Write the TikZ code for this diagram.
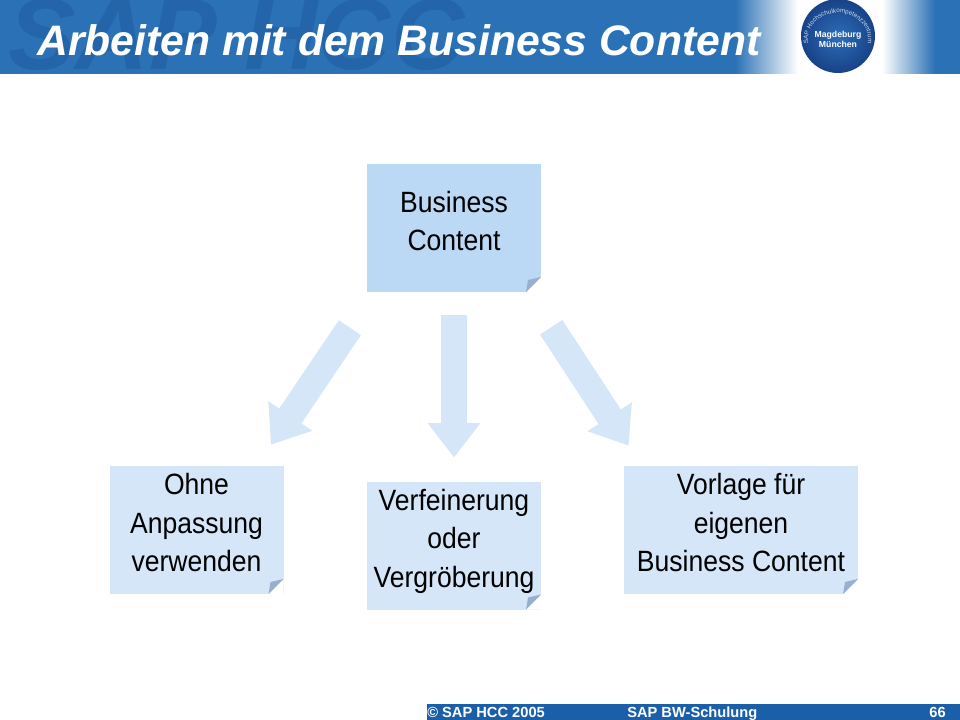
\documentclass[tikz,border=0pt]{standalone}
\usepackage{fontspec}
\usetikzlibrary{arrows.meta,decorations.text}
\setmainfont{Liberation Sans}
\newfontfamily\narrowfont[FakeStretch=0.905]{Liberation Sans}
\definecolor{bandblue}{RGB}{42,113,181}
\definecolor{markblue}{RGB}{36,100,168}
\definecolor{footblue}{RGB}{26,95,168}
\definecolor{noteblue}{RGB}{187,216,245}
\definecolor{paleblue}{RGB}{213,230,249}
\definecolor{foldgray}{RGB}{152,176,206}
\definecolor{badgedark}{RGB}{24,66,136}
\definecolor{badgelight}{RGB}{44,110,184}
\newcommand{\notegap}{\rule[-11pt]{0pt}{1pt}}

\begin{document}
\begin{tikzpicture}[x=0.75pt,y=-0.75pt]
		\tikzstyle{notebox}=[fill=paleblue,inner sep=0pt,minimum width=130.5pt,minimum height=96pt,align=center,text=black,
			font=\narrowfont\fontsize{22}{28.9}\selectfont,
			path picture={
				\fill [white] (path picture bounding box.south east) -- ++(-11.25pt,0pt) -- ++(11.25pt,11.25pt) -- cycle;
				\fill [foldgray] (path picture bounding box.south east) ++(-11.25pt,0pt) -- ++(11.25pt,11.25pt) -- ++(-9.75pt,-2.25pt) -- cycle;
			}]
		\tikzstyle{flow}=[-{Triangle[width=38pt,length=26pt]},line width=20pt,color=paleblue]
		\tikzstyle{foottext}=[text=white,font=\bfseries\fontsize{11}{12}\selectfont,inner sep=0pt]
		\useasboundingbox (0,0) rectangle (960,720);
		% header band
		\fill [bandblue] (0,0) rectangle (735,74);
		\shade [left color=bandblue,right color=white] (735,0) rectangle (798,74);
		\shade [left color=white,right color=bandblue] (882,0) rectangle (935,74);
		\fill [bandblue] (935,0) rectangle (960,74);
		\begin{scope}
			\clip (0,0) rectangle (960,74);
			\node [anchor=base west,inner sep=0pt,text=markblue,font=\bfseries\itshape\fontsize{76}{80}\selectfont] at (8,70) (mark) {SAP HCC};
		\end{scope}
		\node [anchor=base west,inner sep=0pt,text=white,font=\bfseries\itshape\fontsize{32}{36}\selectfont] at (37,55.5) (title) {Arbeiten mit dem Business Content};
		% badge
		\shade [inner color=badgelight,outer color=badgedark] (838,36) circle (37);
		\node [inner sep=0pt,align=center,text=white,font=\bfseries\fontsize{6.5}{7.5}\selectfont] at (838,39.5) (badge) {Magdeburg\\München};
		\path [decorate,decoration={text along path,text align=center,text color=white!75!badgelight,
			text={|\fontsize{4.7}{6}\selectfont|SAP Hochschulkompetenzzentrum}}]
			([shift={(838,39)}]195:22.5pt and 19.5pt) arc [start angle=195,end angle=-15,x radius=22.5pt,y radius=19.5pt];
		% notes
		\node [notebox,fill=noteblue] at (454,228) (content) {Business\\Content\notegap};
		\node [notebox] at (196.5,530) (plain) {Ohne\\Anpassung\\verwenden\notegap};
		\node [notebox] at (454,545.5) (refine) {Verfeinerung\\oder\\Vergröberung\notegap};
		\node [notebox,minimum width=175.5pt] at (741,530) (template) {Vorlage für\\eigenen\\Business Content\notegap};
		% arrows
		\draw [flow,shorten <=32pt,shorten >=19pt] ([xshift=5.25pt]content.south west) -- ([xshift=-20.25pt]plain.north east);
		\draw [flow,shorten <=17.25pt,shorten >=17.75pt] (content.south) -- (refine.north);
		\draw [flow,shorten <=31.4pt,shorten >=17.9pt] ([xshift=-9.75pt]content.south east) -- ([xshift=13.5pt]template.north west);
		% footer
		\fill [footblue] (427,704) rectangle (960,720);
		\node [foottext,anchor=base west] at (427,717) (copyright) {© SAP HCC 2005};
		\node [foottext,anchor=base west] at (627,717) (course) {SAP BW-Schulung};
		\node [foottext,anchor=base east] at (946,717) (page) {66};
	\end{tikzpicture}
\end{document}
